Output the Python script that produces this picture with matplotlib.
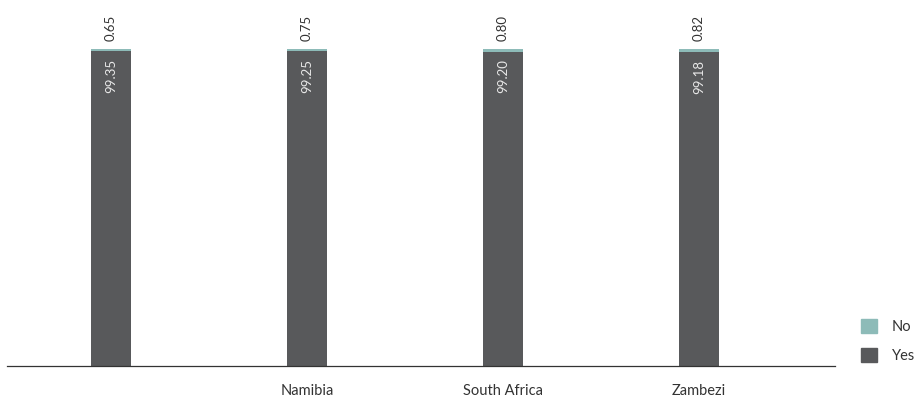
import numpy as np
import matplotlib.pyplot as plt
from matplotlib.patches import Patch

plt.rcParams['font.family'] = ['Lato', 'DejaVu Sans']

# share of responses per region
regions = ['', 'Namibia', 'South Africa', 'Zambezi']
yes_vals = [99.35, 99.25, 99.20, 99.18]
no_vals = [0.65, 0.75, 0.80, 0.82]
yes_labels = ['99.35', '99.25', '99.20', '99.18']
no_labels = ['0.65', '0.75', '0.80', '0.82']

col_yes = '#58595b'
col_no = '#8dbbb8'

fig = plt.figure(figsize=(9.19, 3.99), dpi=100)
ax = fig.add_axes([7 / 919, 33 / 399, 828 / 919, 317 / 399])

x = np.arange(len(regions))
w = 0.205
ax.bar(x, yes_vals, width=w, color=col_yes)
ax.bar(x, no_vals, width=w, bottom=yes_vals, color=col_no)

for xi, yv, nv, yl, nl in zip(x, yes_vals, no_vals, yes_labels, no_labels):
    ax.text(xi, yv + nv + 2.5, nl, rotation=90, ha='center', va='bottom',
            fontsize=9.5, color='#333333', clip_on=False)
    ax.text(xi, yv - 2.5, yl, rotation=90, ha='center', va='top',
            fontsize=9.5, color='#e8e8e8')

ax.set_xlim(-0.53, 3.694)
ax.set_ylim(0, 100)
ax.set_xticks(x)
ax.set_xticklabels(regions, fontsize=10.5, color='#333333')
ax.tick_params(axis='x', length=0, pad=13)
ax.set_yticks([])
for s in ['top', 'right', 'left']:
    ax.spines[s].set_visible(False)
ax.spines['bottom'].set_color('#333333')
ax.spines['bottom'].set_linewidth(0.9)

handles = [Patch(color=col_no, label='No'), Patch(color=col_yes, label='Yes')]
fig.legend(handles=handles, loc='upper left', bbox_to_anchor=(851 / 919, 1 - 309 / 399),
           frameon=False, fontsize=10.5, handlelength=1.1, handleheight=1.1,
           handletextpad=1.0, labelspacing=0.95, labelcolor='#333333',
           borderaxespad=0.3)

fig.savefig('out.png', dpi=100)
